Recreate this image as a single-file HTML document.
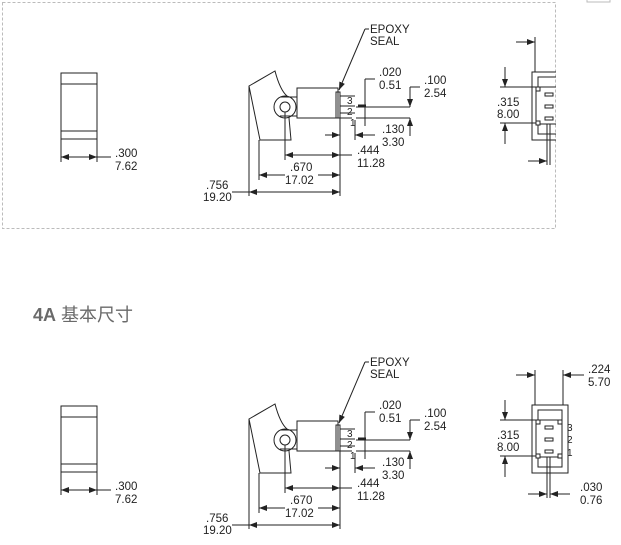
<!DOCTYPE html>
<html><head><meta charset="utf-8"><style>
html,body{margin:0;padding:0;background:#fff;width:621px;height:545px;overflow:hidden}
svg{display:block}
text{font-family:"Liberation Sans",sans-serif;font-size:11.5px;fill:#222}
</style></head><body>
<svg width="621" height="545" viewBox="0 0 621 545" xmlns="http://www.w3.org/2000/svg">
<defs>
<marker id="a" viewBox="0 0 8 6" refX="8" refY="3" markerWidth="8" markerHeight="6" orient="auto-start-reverse" markerUnits="userSpaceOnUse"><path d="M0,0L8,3L0,6z" fill="#222"/></marker>
<clipPath id="c"><rect x="0" y="0" width="556" height="230"/></clipPath>
</defs>
<rect x="2.5" y="2.5" width="553" height="226" fill="none" stroke="#bbb" stroke-dasharray="3,2"/>
<rect x="587" y="-2" width="23" height="4" fill="none" stroke="#bbb"/>
<text x="33" y="321" style="font-size:18px;fill:#6a6a6a;font-family:'Liberation Sans','Noto Sans CJK SC',sans-serif"><tspan font-weight="bold">4A</tspan> 基本尺寸</text>

<g stroke="#222" stroke-width="1" fill="none">
<rect x="61" y="73" width="36" height="66"/><line x1="61" y1="84" x2="97" y2="84"/><line x1="61" y1="131" x2="97" y2="131"/>
<line x1="61" y1="139" x2="61" y2="162"/><line x1="97" y1="139" x2="97" y2="162"/>
<line x1="61" y1="157" x2="97" y2="157" marker-start="url(#a)" marker-end="url(#a)"/><line x1="97" y1="157" x2="111" y2="157"/>
<path d="M249,86 L275,71 Q280,90 287,96 L291,140 L260,140 Q255,115 249,86Z"/>
<circle cx="285" cy="107" r="11" fill="#fff"/><circle cx="285" cy="107" r="5"/>
<line x1="280" y1="97" x2="297" y2="97"/><line x1="280" y1="116" x2="297" y2="116"/>
<rect x="297" y="88" width="41" height="30"/>
<rect x="336" y="92" width="4" height="26"/>
<line x1="340" y1="96" x2="355" y2="96"/><line x1="340" y1="106" x2="355" y2="106"/><line x1="340" y1="113" x2="355" y2="113"/>
<line x1="340" y1="118" x2="352" y2="118"/>
<line x1="339" y1="90" x2="365" y2="29" marker-start="url(#a)"/><line x1="365" y1="29" x2="369" y2="29"/>
<line x1="365" y1="79" x2="365" y2="126"/><line x1="365" y1="79" x2="375" y2="79"/>
<line x1="358" y1="106" x2="366" y2="106" stroke-width="3"/>
<line x1="356" y1="107" x2="410" y2="107"/><line x1="356" y1="118" x2="410" y2="118"/>
<line x1="410" y1="87" x2="410" y2="107" marker-end="url(#a)"/><line x1="410" y1="136" x2="410" y2="118" marker-end="url(#a)"/>
<line x1="410" y1="87" x2="420" y2="87"/>
<line x1="355" y1="120" x2="355" y2="140"/><line x1="375" y1="135" x2="355" y2="135" marker-end="url(#a)"/>
<line x1="325" y1="135" x2="340" y2="135" marker-end="url(#a)"/>
<line x1="340" y1="118" x2="340" y2="196"/><line x1="285" y1="112" x2="285" y2="160"/>
<line x1="285" y1="155" x2="340" y2="155" marker-start="url(#a)" marker-end="url(#a)"/><line x1="340" y1="155" x2="352" y2="155"/>
<line x1="259" y1="140" x2="259" y2="180"/>
<line x1="259" y1="175" x2="285" y2="175" marker-start="url(#a)"/><line x1="318" y1="175" x2="340" y2="175" marker-end="url(#a)"/>
<line x1="249" y1="86" x2="249" y2="196"/>
<line x1="249" y1="192" x2="340" y2="192" marker-start="url(#a)" marker-end="url(#a)"/><line x1="232" y1="192" x2="249" y2="192"/>
</g>
<g>
<text x="115" y="157">.300</text><text x="115" y="170">7.62</text>
<text x="370" y="33">EPOXY</text><text x="370" y="45">SEAL</text>
<text x="379" y="76">.020</text><text x="379" y="89">0.51</text>
<text x="424" y="84">.100</text><text x="424" y="97">2.54</text>
<text x="382" y="133">.130</text><text x="382" y="146">3.30</text>
<text x="357" y="154">.444</text><text x="357" y="167">11.28</text>
<text x="290" y="171">.670</text><text x="285" y="184">17.02</text>
<text x="206" y="189">.756</text><text x="203" y="201">19.20</text>
<text x="347" y="104" style="font-size:10px">3</text><text x="347" y="115" style="font-size:10px">2</text><text x="350" y="126" style="font-size:10px">1</text>
</g>

<g transform="translate(0,333)" stroke="#222" stroke-width="1" fill="none">
<rect x="61" y="73" width="36" height="66"/><line x1="61" y1="84" x2="97" y2="84"/><line x1="61" y1="131" x2="97" y2="131"/>
<line x1="61" y1="139" x2="61" y2="162"/><line x1="97" y1="139" x2="97" y2="162"/>
<line x1="61" y1="157" x2="97" y2="157" marker-start="url(#a)" marker-end="url(#a)"/><line x1="97" y1="157" x2="111" y2="157"/>
<path d="M249,86 L275,71 Q280,90 287,96 L291,140 L260,140 Q255,115 249,86Z"/>
<circle cx="285" cy="107" r="11" fill="#fff"/><circle cx="285" cy="107" r="5"/>
<line x1="280" y1="97" x2="297" y2="97"/><line x1="280" y1="116" x2="297" y2="116"/>
<rect x="297" y="88" width="41" height="30"/>
<rect x="336" y="92" width="4" height="26"/>
<line x1="340" y1="96" x2="355" y2="96"/><line x1="340" y1="106" x2="355" y2="106"/><line x1="340" y1="113" x2="355" y2="113"/>
<line x1="340" y1="118" x2="352" y2="118"/>
<line x1="339" y1="90" x2="365" y2="29" marker-start="url(#a)"/><line x1="365" y1="29" x2="369" y2="29"/>
<line x1="365" y1="79" x2="365" y2="126"/><line x1="365" y1="79" x2="375" y2="79"/>
<line x1="358" y1="106" x2="366" y2="106" stroke-width="3"/>
<line x1="356" y1="107" x2="410" y2="107"/><line x1="356" y1="118" x2="410" y2="118"/>
<line x1="410" y1="87" x2="410" y2="107" marker-end="url(#a)"/><line x1="410" y1="136" x2="410" y2="118" marker-end="url(#a)"/>
<line x1="410" y1="87" x2="420" y2="87"/>
<line x1="355" y1="120" x2="355" y2="140"/><line x1="375" y1="135" x2="355" y2="135" marker-end="url(#a)"/>
<line x1="325" y1="135" x2="340" y2="135" marker-end="url(#a)"/>
<line x1="340" y1="118" x2="340" y2="196"/><line x1="285" y1="112" x2="285" y2="160"/>
<line x1="285" y1="155" x2="340" y2="155" marker-start="url(#a)" marker-end="url(#a)"/><line x1="340" y1="155" x2="352" y2="155"/>
<line x1="259" y1="140" x2="259" y2="180"/>
<line x1="259" y1="175" x2="285" y2="175" marker-start="url(#a)"/><line x1="318" y1="175" x2="340" y2="175" marker-end="url(#a)"/>
<line x1="249" y1="86" x2="249" y2="196"/>
<line x1="249" y1="192" x2="340" y2="192" marker-start="url(#a)" marker-end="url(#a)"/><line x1="232" y1="192" x2="249" y2="192"/>
</g>
<g transform="translate(0,333)">
<text x="115" y="157">.300</text><text x="115" y="170">7.62</text>
<text x="370" y="33">EPOXY</text><text x="370" y="45">SEAL</text>
<text x="379" y="76">.020</text><text x="379" y="89">0.51</text>
<text x="424" y="84">.100</text><text x="424" y="97">2.54</text>
<text x="382" y="133">.130</text><text x="382" y="146">3.30</text>
<text x="357" y="154">.444</text><text x="357" y="167">11.28</text>
<text x="290" y="171">.670</text><text x="285" y="184">17.02</text>
<text x="206" y="189">.756</text><text x="203" y="201">19.20</text>
<text x="347" y="104" style="font-size:10px">3</text><text x="347" y="115" style="font-size:10px">2</text><text x="350" y="126" style="font-size:10px">1</text>
</g>

<g clip-path="url(#c)">
<g transform="translate(0,-333)" stroke="#222" fill="none">
<line x1="535" y1="370" x2="535" y2="405"/>
<line x1="516" y1="375" x2="535" y2="375" marker-end="url(#a)"/>
<rect x="532" y="405" width="36" height="68"/>
<path d="M538,420 V410 H562 V420"/><rect x="536" y="420" width="26" height="37"/><path d="M538,457 V467 H562 V457"/>
<rect x="536" y="420" width="4" height="4" fill="#fff"/><rect x="536" y="454" width="4" height="4" fill="#fff"/>
<line x1="500" y1="420" x2="536" y2="420"/><line x1="500" y1="456" x2="536" y2="456"/>
<line x1="505" y1="400" x2="505" y2="420" marker-end="url(#a)"/><line x1="505" y1="477" x2="505" y2="456" marker-end="url(#a)"/>
<rect x="545" y="426" width="8" height="3"/><rect x="545" y="438" width="8" height="3"/><rect x="545" y="450" width="8" height="3"/>
<line x1="547" y1="457" x2="547" y2="498"/><line x1="550" y1="457" x2="550" y2="498"/>
<line x1="528" y1="494" x2="547" y2="494" marker-end="url(#a)"/>
</g>
<text x="497" y="106">.315</text><text x="497" y="118">8.00</text>
</g>

<g stroke="#222" fill="none">
<line x1="535" y1="370" x2="535" y2="405"/><line x1="563" y1="370" x2="563" y2="405"/>
<line x1="516" y1="375" x2="535" y2="375" marker-end="url(#a)"/><line x1="584" y1="375" x2="563" y2="375" marker-end="url(#a)"/>
<rect x="532" y="405" width="36" height="68"/>
<path d="M538,420 V410 H562 V420"/><rect x="536" y="420" width="26" height="37"/><path d="M538,457 V467 H562 V457"/>
<rect x="536" y="420" width="4" height="4" fill="#fff"/><rect x="558" y="420" width="4" height="4" fill="#fff"/>
<rect x="536" y="454" width="4" height="4" fill="#fff"/><rect x="558" y="454" width="4" height="4" fill="#fff"/>
<line x1="500" y1="420" x2="536" y2="420"/><line x1="500" y1="456" x2="536" y2="456"/>
<line x1="505" y1="400" x2="505" y2="420" marker-end="url(#a)"/><line x1="505" y1="477" x2="505" y2="456" marker-end="url(#a)"/>
<rect x="545" y="426" width="8" height="3"/><rect x="545" y="438" width="8" height="3"/><rect x="545" y="450" width="8" height="3"/>
<line x1="547" y1="457" x2="547" y2="498"/><line x1="550" y1="457" x2="550" y2="498"/>
<line x1="528" y1="494" x2="547" y2="494" marker-end="url(#a)"/><line x1="570" y1="494" x2="550" y2="494" marker-end="url(#a)"/>
</g>
<text x="588" y="373">.224</text><text x="588" y="386">5.70</text>
<text x="497" y="439">.315</text><text x="497" y="451">8.00</text>
<text x="567" y="431" style="font-size:10px">3</text><text x="567" y="443" style="font-size:10px">2</text><text x="567" y="456" style="font-size:10px">1</text>
<text x="580" y="491">.030</text><text x="580" y="504">0.76</text>
</svg>
</body></html>
